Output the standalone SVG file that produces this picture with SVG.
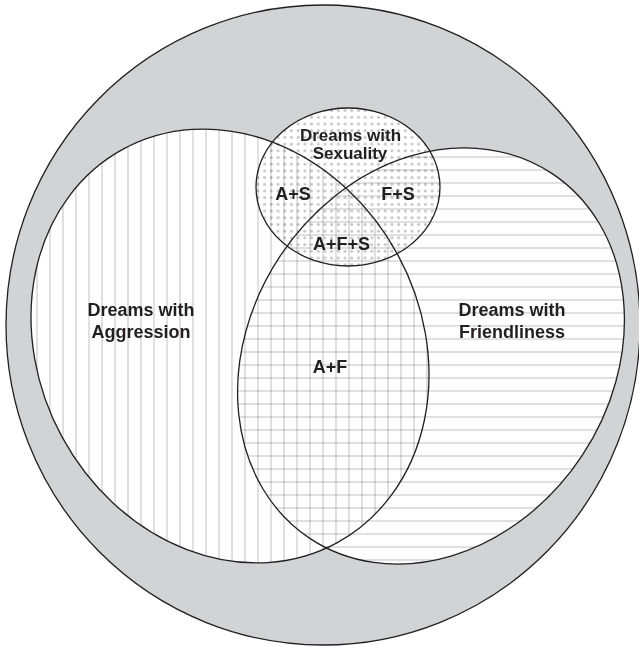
<svg xmlns="http://www.w3.org/2000/svg" width="639" height="647" viewBox="0 0 639 647">
<style>
.outline{fill:none;stroke:#231f20;stroke-width:1.3}
.bg{fill:#ffffff;stroke:none}
.pat{mix-blend-mode:multiply;stroke:none}
.lbl{font-family:"Liberation Sans",Arial,Helvetica,sans-serif;font-weight:bold;font-size:18px;fill:#231f20;text-anchor:middle}
.sm{font-size:17px}
</style>
<defs>
<pattern id="vl" patternUnits="userSpaceOnUse" x="10.5" y="0" width="13" height="13"><rect x="0" y="0" width="1" height="13" fill="#c2c2c2"/></pattern>
<pattern id="hl" patternUnits="userSpaceOnUse" x="0" y="0.5" width="13" height="13"><rect x="0" y="0" width="13" height="1" fill="#c2c2c2"/></pattern>
<pattern id="dots" patternUnits="userSpaceOnUse" x="0" y="0" width="6.7" height="6.7"><circle cx="3.35" cy="3.35" r="1.5" fill="#c4c4c4"/></pattern>
<ellipse id="shapeA" cx="230" cy="346" rx="224" ry="191" transform="rotate(61.5 230 346)"/>
<ellipse id="shapeF" cx="431" cy="356" rx="219" ry="181" transform="rotate(-56.4 431 356)"/>
<ellipse id="shapeS" cx="348" cy="187" rx="92" ry="79"/>
<clipPath id="clipA"><use href="#shapeA"/></clipPath>
<clipPath id="clipF"><use href="#shapeF"/></clipPath>
</defs>
<g id="universe">
<ellipse cx="323" cy="325" rx="317" ry="320" fill="#d1d3d4" stroke="#231f20" stroke-width="1.3"/>
</g>
<g id="backgrounds">
<use href="#shapeA" class="bg"/>
<use href="#shapeF" class="bg"/>
<use href="#shapeS" class="bg"/>
</g>
<g id="aggression">
<rect class="pat" fill="url(#vl)" x="0" y="100" width="460" height="480" clip-path="url(#clipA)"/>
<use href="#shapeA" class="outline"/>
<text class="lbl" x="141" y="316">Dreams with</text>
<text class="lbl" x="141" y="338">Aggression</text>
</g>
<g id="friendliness">
<rect class="pat" fill="url(#hl)" x="220" y="130" width="419" height="450" clip-path="url(#clipF)"/>
<use href="#shapeF" class="outline"/>
<text class="lbl" x="512" y="316">Dreams with</text>
<text class="lbl" x="512" y="338">Friendliness</text>
</g>
<g id="sexuality">
<use href="#shapeS" class="pat" fill="url(#dots)"/>
<use href="#shapeS" class="outline"/>
<text class="lbl sm" x="350.5" y="140.5">Dreams with</text>
<text class="lbl sm" x="350" y="158.5">Sexuality</text>
</g>
<g id="intersections">
<text class="lbl" x="293" y="200">A+S</text>
<text class="lbl" x="398" y="200">F+S</text>
<text class="lbl" x="341.5" y="249.5">A+F+S</text>
<text class="lbl" x="330" y="372.5">A+F</text>
</g>
</svg>
